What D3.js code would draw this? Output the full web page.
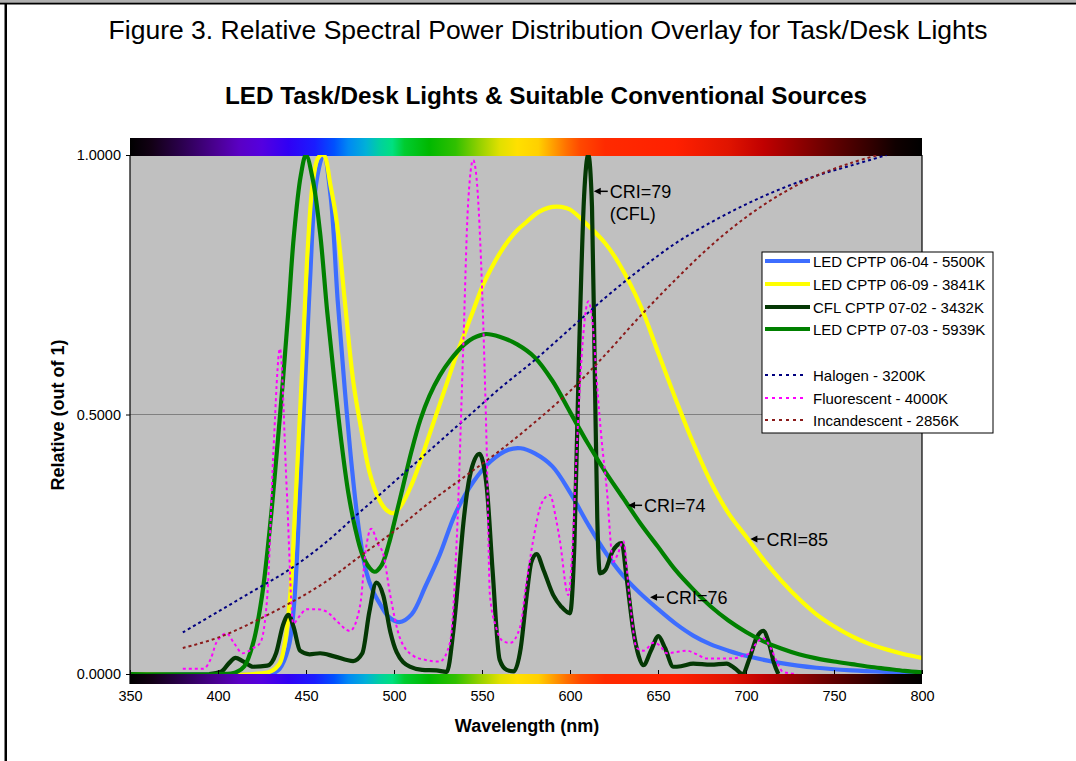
<!DOCTYPE html>
<html><head><meta charset="utf-8">
<script src="https://cdn.jsdelivr.net/npm/d3@7/dist/d3.min.js"></script>
<style>
html,body{margin:0;padding:0;background:#fff;}
svg{display:block;font-family:"Liberation Sans",Arial,sans-serif;}
</style></head>
<body>
<svg id="chart" width="1076" height="761"></svg>
<script>
// ---------------- DATA ----------------
const titleText = "Figure 3. Relative Spectral Power Distribution Overlay for Task/Desk Lights";
const subtitleText = "LED Task/Desk Lights & Suitable Conventional Sources";
const xTicks = [350,400,450,500,550,600,650,700,750,800];
const yTicks = [0, 0.5, 1];

const blueNm  = [350,400,430,435,440,443,447,452,456,460,464,468,472,476,480,484,488,492,497,503,510,518,526,535,545,555,565,572,580,590,600,610,620,630,640,650,660,670,680,690,700,720,740,760,780,800];
const blueVal = [0,0,0,0.01,0.05,0.125,0.38,0.74,0.95,1.0,0.92,0.72,0.55,0.40,0.28,0.20,0.16,0.135,0.11,0.10,0.115,0.17,0.23,0.31,0.37,0.41,0.432,0.435,0.425,0.40,0.35,0.29,0.235,0.19,0.155,0.125,0.097,0.074,0.057,0.045,0.035,0.021,0.012,0.007,0.004,0.002];

const yellowNm  = [350,420,430,435,438,441,444,447.5,451,454,457,460,464,467.5,472,477,482,486,491,496,500,505,510,515,520,525,530,535,540,545,550,555,560,565,570,575,580,585,590,595,600,610,620,628,640,650,660,670,680,690,700,710,720,730,740,750,760,770,780,790,800];
const yellowVal = [0,0,0.005,0.02,0.06,0.15,0.33,0.565,0.82,0.95,0.995,1.0,0.94,0.87,0.72,0.56,0.46,0.39,0.34,0.315,0.31,0.33,0.365,0.41,0.46,0.51,0.56,0.61,0.655,0.70,0.745,0.78,0.81,0.835,0.855,0.87,0.885,0.895,0.90,0.90,0.895,0.865,0.83,0.79,0.71,0.62,0.53,0.445,0.37,0.31,0.265,0.22,0.18,0.145,0.115,0.092,0.073,0.058,0.047,0.038,0.031];

const cflNm  = [395,402,406,410,414,420,428,433,437,440,443,446.6,452,458,466,476.8,482,486,490,494,498,501.5,509,516,524,530,533.7,537,539.4,543,548.5,552.7,556,560,564,568,572,575.4,578,581,585,590.5,595,600,602.5,605,608,610.4,612.5,614,615.5,617,620,624,629.4,632,636,639,641.7,646,650.2,654,658.7,663,670,680,689,694,698,702,706,709.8,713,716,718.4];
const cflVal = [0,0.005,0.02,0.031,0.025,0.014,0.016,0.04,0.095,0.114,0.09,0.045,0.038,0.04,0.034,0.025,0.04,0.12,0.176,0.15,0.08,0.042,0.014,0.008,0.007,0.004,0.083,0.2,0.29,0.38,0.424,0.36,0.2,0.028,0.008,0.005,0.05,0.152,0.215,0.231,0.2,0.152,0.13,0.117,0.25,0.6,0.92,1.0,0.9,0.6,0.3,0.194,0.2,0.235,0.252,0.19,0.083,0.035,0.017,0.045,0.073,0.05,0.014,0.015,0.02,0.018,0.02,0.01,0.0,0.03,0.07,0.083,0.06,0.02,0.0];

const greenNm  = [350,400,410,415,420,425,430,434,437,440,443,447,450,454,458,462,466,470,474,478,482,486,489,493,497,500,505,510,515,520,526,532,540,545,552,560,570,580,590,600,610,620,630,640,650,660,670,680,690,700,710,720,730,740,750,760,770,780,790,800];
const greenVal = [0,0,0.003,0.015,0.06,0.15,0.30,0.45,0.57,0.70,0.84,0.96,1.0,0.95,0.85,0.70,0.57,0.45,0.35,0.28,0.23,0.205,0.197,0.21,0.25,0.29,0.36,0.43,0.49,0.535,0.575,0.605,0.635,0.647,0.655,0.65,0.635,0.61,0.565,0.505,0.445,0.39,0.34,0.29,0.245,0.2,0.163,0.13,0.103,0.081,0.063,0.049,0.038,0.03,0.024,0.019,0.014,0.01,0.006,0.003];

const halogenNm  = [380,400,420,440,460,480,500,520,540,560,580,600,620,640,660,680,700,720,740,760,780];
const halogenVal = [0.08,0.12,0.16,0.20,0.25,0.31,0.37,0.43,0.49,0.55,0.605,0.665,0.725,0.78,0.83,0.87,0.905,0.935,0.96,0.98,1.0];

const fluorNm  = [380,391.6,396,399,405,409,414,420,424,428,431.5,435.2,439,442.8,446,450.4,456,461.8,468,475,480.7,484,487,491,494,497.7,503.4,511,518,526,531.8,535.6,539.4,542,545,547.5,548.9,552.7,554.5,558,562,566,571.6,575,579,584,588.6,592,594.3,599,601.5,603.8,607,610.4,613,615.2,618,620.8,624.6,627,630.3,634,637.9,642,647.3,651,655,660,666.3,672,677.7,685,692.8,698,702,706,709.8,714,718,721,729];
const fluorVal = [0.01,0.01,0.03,0.06,0.078,0.06,0.04,0.05,0.06,0.15,0.43,0.627,0.36,0.097,0.11,0.125,0.125,0.12,0.10,0.083,0.131,0.24,0.28,0.25,0.23,0.155,0.069,0.035,0.027,0.024,0.06,0.255,0.635,0.9,0.99,0.93,0.84,0.43,0.152,0.09,0.063,0.06,0.09,0.17,0.256,0.33,0.345,0.3,0.256,0.152,0.25,0.43,0.63,0.718,0.67,0.565,0.45,0.36,0.216,0.23,0.256,0.14,0.05,0.045,0.06,0.055,0.04,0.042,0.045,0.038,0.03,0.03,0.03,0.035,0.04,0.06,0.069,0.05,0.02,0.004,0];

const incandNm  = [380,400,420,440,460,480,500,520,540,560,580,600,620,640,660,680,700,720,740,760,775];
const incandVal = [0.05,0.07,0.10,0.135,0.175,0.225,0.275,0.33,0.38,0.43,0.485,0.545,0.615,0.69,0.76,0.825,0.88,0.925,0.96,0.985,1.0];

const seriesNames  = ["LED CPTP 06-04 - 5500K","LED CPTP 06-09 - 3841K","CFL CPTP 07-02 - 3432K","LED CPTP 07-03 - 5939K","Halogen - 3200K","Fluorescent - 4000K","Incandescent - 2856K"];
const seriesColors = ["#3d6dff","#ffff00","#043804","#008000","#000080","#ff00ff","#8b1a1a"];
const seriesDashed = [false,false,false,false,true,true,true];
const seriesSmooth = [true,true,false,true,true,false,true];
const seriesNmArr  = [blueNm,yellowNm,cflNm,greenNm,halogenNm,fluorNm,incandNm];
const seriesValArr = [blueVal,yellowVal,cflVal,greenVal,halogenVal,fluorVal,incandVal];

const annoText = ["CRI=79","CRI=74","CRI=85","CRI=76"];
const annoSub  = ["(CFL)","","",""];
const annoNm   = [613.5,633,702.5,645.5];
const annoVal  = [0.93,0.325,0.26,0.148];

const spectrumNm     = [350,362,380,400,412,425,440,455,466,474,484,492,499,506,520,535,548,560,570,582,590,598,606,620,660,690,710,730,750,770,785,800];
const spectrumColors = ["#000000","#120014","#2c0050","#4c0096","#5a00c4","#5400e0","#3000f4","#1a1cff","#0050ff","#0088f4","#00b0d8","#00d0a0","#00e080","#00cc30","#00b800","#30c000","#90d000","#e0e000","#ffe000","#ffd000","#ffa000","#ff7000","#ff4800","#ff2a00","#ff2000","#e01400","#c00000","#900000","#600000","#340000","#100000","#000000"];

// ---------------- LAYOUT ----------------
const svg = d3.select("#chart");
const L = 130, R = 922, T = 155, B = 674;
const x = d3.scaleLinear().domain([350,800]).range([L,R]);
const y = d3.scaleLinear().domain([0,1]).range([B,T]);

// frame
svg.append("rect").attr("x",0).attr("y",0).attr("width",1076).attr("height",2).attr("fill","#b0b0b0");
svg.append("rect").attr("x",0).attr("y",2.5).attr("width",1076).attr("height",2).attr("fill","#000");
svg.append("rect").attr("x",4.5).attr("y",3).attr("width",2.5).attr("height",761).attr("fill","#000");

// titles
svg.append("text").attr("x",548).attr("y",39).attr("text-anchor","middle")
  .attr("font-size",26.5).attr("fill","#000").text(titleText);
svg.append("text").attr("x",546).attr("y",104).attr("text-anchor","middle")
  .attr("font-size",24.3).attr("font-weight","bold").attr("fill","#000").text(subtitleText);

// gradient
const defs = svg.append("defs");
const grad = defs.append("linearGradient").attr("id","spec").attr("gradientUnits","userSpaceOnUse")
  .attr("x1",x(350)).attr("x2",x(800)).attr("y1",0).attr("y2",0);
spectrumNm.forEach((nm,i)=>grad.append("stop").attr("offset",(nm-350)/450).attr("stop-color",spectrumColors[i]));
defs.append("clipPath").attr("id","plotclip").append("rect").attr("x",L).attr("y",T).attr("width",R-L).attr("height",B-T);

// plot area
svg.append("rect").attr("x",L).attr("y",T).attr("width",R-L).attr("height",B-T).attr("fill","#c0c0c0");
svg.append("line").attr("x1",L).attr("x2",R).attr("y1",y(0.5)).attr("y2",y(0.5)).attr("stroke","#808080").attr("stroke-width",1);

// spectrum bars
svg.append("rect").attr("x",L).attr("y",138).attr("width",R-L).attr("height",T-138+1).attr("fill","url(#spec)");
svg.append("rect").attr("x",L).attr("y",B).attr("width",R-L).attr("height",10).attr("fill","url(#spec)");

// series
const lineSmooth = d3.line().x(d=>x(d[0])).y(d=>y(d[1])).curve(d3.curveCatmullRom.alpha(0.5));
const lineMono = d3.line().x(d=>x(d[0])).y(d=>y(d[1])).curve(d3.curveMonotoneX);
const gS = svg.append("g").attr("clip-path","url(#plotclip)");
seriesNames.forEach((n,i)=>{
  const pts = seriesNmArr[i].map((nm,j)=>[nm,seriesValArr[i][j]]);
  gS.append("path").attr("d",(seriesSmooth[i]?lineSmooth:lineMono)(pts)).attr("fill","none")
    .attr("stroke",seriesColors[i])
    .attr("stroke-width",seriesDashed[i]?2:4.2)
    .attr("stroke-linejoin","round")
    .attr("stroke-dasharray",seriesDashed[i]?"3,3":null);
});

// plot borders
svg.append("line").attr("x1",L).attr("x2",L).attr("y1",T).attr("y2",B+10).attr("stroke","#000").attr("stroke-width",1.2);
svg.append("line").attr("x1",R).attr("x2",R).attr("y1",T).attr("y2",B).attr("stroke","#000").attr("stroke-width",1.2);

// axes
const yAxis = d3.axisLeft(y).tickValues(yTicks).tickFormat(d3.format(".4f")).tickSize(4).tickPadding(5);
const gy = svg.append("g").attr("transform",`translate(${L},0)`).call(yAxis);
gy.select(".domain").remove();
gy.selectAll("text").attr("font-size",14.5).attr("font-family","Liberation Sans, Arial, sans-serif").attr("fill","#000");
gy.selectAll("line").attr("stroke","#000");

const xAxis = d3.axisBottom(x).tickValues(xTicks).tickFormat(d3.format("d")).tickSizeInner(-4).tickSizeOuter(0).tickPadding(17);
const gx = svg.append("g").attr("transform",`translate(0,${B})`).call(xAxis);
gx.select(".domain").remove();
gx.selectAll("text").attr("font-size",14.5).attr("font-family","Liberation Sans, Arial, sans-serif").attr("fill","#000");
gx.selectAll("line").attr("stroke","#000");

// axis titles
svg.append("text").attr("transform","translate(64,415) rotate(-90)").attr("text-anchor","middle")
  .attr("font-size",18).attr("font-weight","bold").text("Relative (out of 1)");
svg.append("text").attr("x",527).attr("y",732).attr("text-anchor","middle")
  .attr("font-size",18).attr("font-weight","bold").text("Wavelength (nm)");

// annotations
annoText.forEach((t,i)=>{
  const tx = x(annoNm[i]), ty = y(annoVal[i]);
  const g = svg.append("g");
  g.append("line").attr("x1",tx+4).attr("x2",tx+14).attr("y1",ty).attr("y2",ty).attr("stroke","#000").attr("stroke-width",1.5);
  g.append("path").attr("d",`M${tx},${ty} L${tx+7},${ty-3.5} L${tx+7},${ty+3.5} Z`).attr("fill","#000");
  g.append("text").attr("x",tx+16).attr("y",ty+6.5).attr("font-size",18).attr("fill","#000").text(t);
  if (annoSub[i]) g.append("text").attr("x",tx+16).attr("y",ty+29).attr("font-size",18).attr("fill","#000").text(annoSub[i]);
});

// legend
const lg = svg.append("g");
lg.append("rect").attr("x",762).attr("y",252).attr("width",231).attr("height",181).attr("fill","#fff").attr("stroke","#000").attr("stroke-width",1);
const legendY = [261,284,307,329,375,398,420];
seriesNames.forEach((n,i)=>{
  const ly = legendY[i];
  lg.append("line").attr("x1",765).attr("x2",seriesDashed[i]?805:810).attr("y1",ly).attr("y2",ly)
    .attr("stroke",seriesColors[i]).attr("stroke-width",seriesDashed[i]?2:4.2)
    .attr("stroke-dasharray",seriesDashed[i]?"3,4":null);
  lg.append("text").attr("x",813).attr("y",ly+5.5).attr("font-size",15).attr("fill","#000").text(n);
});
</script>
</body></html>
